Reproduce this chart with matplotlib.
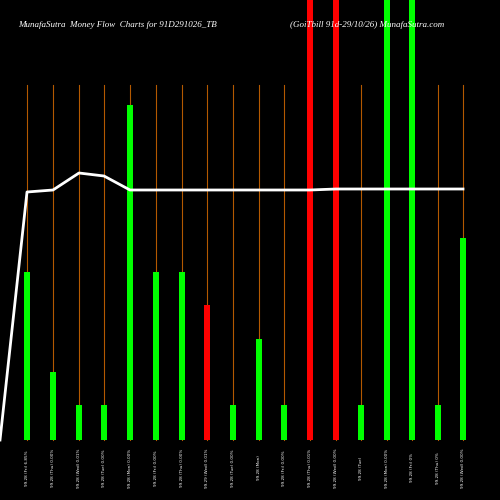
import matplotlib
matplotlib.use("Agg")
import matplotlib.pyplot as plt

labels = ["99.28 (Fri) 6.85%","99.28 (Thu) 0.00%","99.28 (Wed) 0.01%","99.28 (Tue) 0.00%",
          "99.28 (Mon) 0.00%","99.28 (Fri) 0.00%","99.28 (Thu) 0.00%","99.29 (Wed) 0.01%",
          "99.28 (Tue) 0.00%","99.28 (Mon)","99.28 (Fri) 0.00%","99.28 (Thu) 0.01%",
          "99.28 (Wed) 0.00%","99.28 (Tue)","99.28 (Mon) 0.00%","99.28 (Fri) 0%",
          "99.28 (Thu) 0%","99.28 (Wed) 0.00%"]
volumes = [168, 68, 35, 35, 335, 168, 168, 135, 35, 101, 35, 480, 480, 35, 480, 480, 35, 202]
colors = ["g","g","g","g","g","g","g","r","g","g","g","r","r","g","g","g","g","g"]
flow = [248, 250, 267, 264, 250, 250, 250, 250, 250, 250, 250, 250, 251, 251, 251, 251, 251, 251]
xs = [27,53,79,104,130,156,182,207,233,259,284,310,336,361,387,412,438,463]

fig = plt.figure(figsize=(5,5), dpi=100, facecolor="black")
ax = fig.add_axes([0,0,1,1], facecolor="black")
ax.set_xlim(0,500); ax.set_ylim(-60,440)
ax.axis("off")
for x in xs:
    ax.plot([x,x],[0,355], color="#b35900", lw=0.8, zorder=1)
for x,v,c in zip(xs,volumes,colors):
    ax.bar(x, v, width=6, color="#00ff00" if c=="g" else "#ff0000", zorder=2)
ax.plot([0]+xs, [0]+flow, color="white", lw=2, zorder=3)
for x,l in zip(xs,labels):
    ax.text(x, -28, l, rotation=90, color="white", fontsize=3, ha="center", va="center")
ax.text(18, 415, "MunafaSutra  Money Flow  Charts for 91D291026_TB", color="white",
        fontsize=6.5, style="italic", family="Liberation Serif", va="center")
ax.text(290, 415, "(GoiTbill 91d-29/10/26) MunafaSutra.com", color="white",
        fontsize=6.5, style="italic", family="Liberation Serif", va="center")
fig.savefig("out.png", dpi=100, facecolor="black")
